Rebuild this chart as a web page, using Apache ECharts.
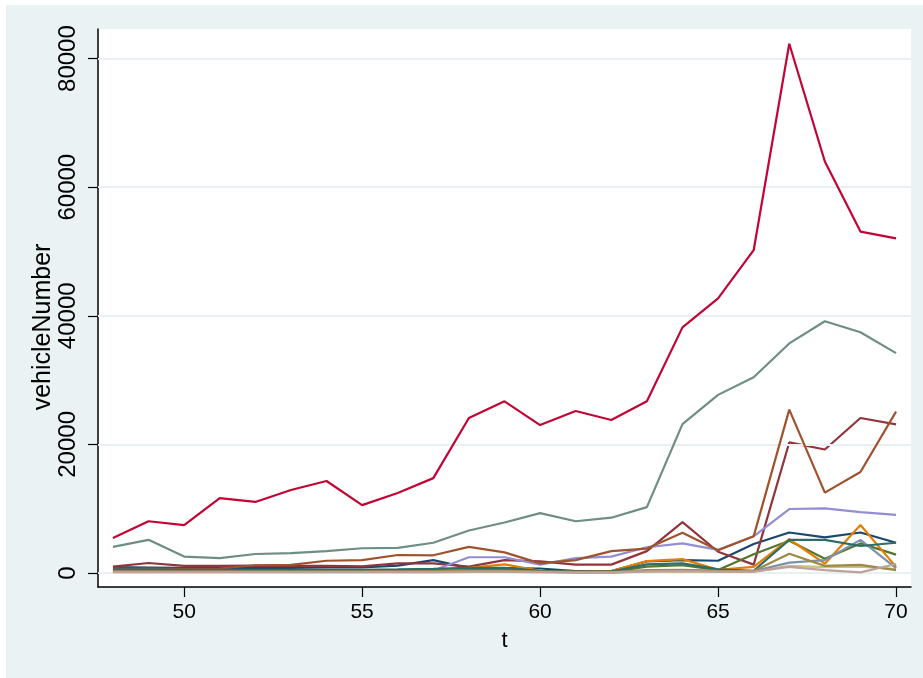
<!DOCTYPE html>
<html>
<head>
<meta charset="utf-8">
<script src="https://cdn.jsdelivr.net/npm/echarts@6/dist/echarts.min.js"></script>
<style>
  html, body { margin: 0; padding: 0; background: #ffffff; }
  #chart { width: 923px; height: 678px; }
</style>
</head>
<body>
<div id="chart"></div>
<script>
// Time index (t) and tick values
const t = [48,49,50,51,52,53,54,55,56,57,58,59,60,61,62,63,64,65,66,67,68,69,70];
const xTicks = [50, 55, 60, 65, 70];
const yTicks = [0, 20000, 40000, 60000, 80000];

// vehicleNumber per panel unit, in plotting order
const navy      = [900,850,800,750,800,800,850,850,1150,2000,750,750,700,300,300,1800,2000,1900,4500,6300,5550,6300,4700];
const maroon    = [1000,1550,1100,1100,1150,1100,1100,1050,1500,1500,1000,2000,1800,1300,1300,3400,7900,3300,1300,20300,19200,24100,23100];
const forest    = [300,300,250,250,300,300,300,300,300,350,500,500,250,150,150,1000,1200,450,2900,5000,2200,4600,2850];
const dkorange  = [400,450,350,350,350,350,350,350,400,450,800,1350,350,200,300,1850,2150,500,950,5250,1450,7450,950];
const teal      = [4050,5150,2550,2300,2950,3100,3400,3850,3900,4700,6600,7850,9300,8050,8600,10250,23150,27700,30450,35700,39150,37450,34200];
const cranberry = [5450,8050,7450,11650,11050,12900,14300,10550,12450,14750,24100,26700,23000,25200,23800,26700,38200,42700,50200,82300,64000,53100,52050];
const lavender  = [300,300,300,300,300,300,300,300,350,400,2450,2450,1300,2300,2550,4000,4600,3600,5700,9950,10050,9450,9050];
const khaki     = [100,100,100,100,100,100,100,100,100,100,150,150,100,50,50,200,250,150,200,1100,900,1000,600];
const sienna    = [700,700,650,700,1200,1250,1900,2000,2800,2750,4050,3200,1500,2000,3400,3800,6250,3550,5700,25400,12500,15700,25100];
const emidblue  = [200,200,200,200,200,200,200,200,200,250,300,300,200,100,100,300,400,300,300,1600,2000,5150,750];
const emerald   = [550,550,500,500,500,500,500,500,550,650,800,800,350,200,200,1350,1500,550,350,5150,5150,4200,4700];
const brown     = [250,250,250,250,250,250,250,250,250,300,350,350,250,150,150,450,500,350,300,3000,1100,1250,450];
const erose     = [150,150,150,150,150,150,150,150,150,150,200,200,150,100,100,250,300,200,200,950,450,100,1400];

const seriesList = [
  { name: 'navy',      color: '#1a476f', values: navy },
  { name: 'maroon',    color: '#90353b', values: maroon },
  { name: 'forest',    color: '#55752f', values: forest },
  { name: 'dkorange',  color: '#e37e00', values: dkorange },
  { name: 'teal',      color: '#6e8e84', values: teal },
  { name: 'cranberry', color: '#c10534', values: cranberry },
  { name: 'lavender',  color: '#938dd2', values: lavender },
  { name: 'khaki',     color: '#cac27e', values: khaki },
  { name: 'sienna',    color: '#a0522d', values: sienna },
  { name: 'emidblue',  color: '#7b92a8', values: emidblue },
  { name: 'emerald',   color: '#2d6d66', values: emerald },
  { name: 'brown',     color: '#9c8847', values: brown },
  { name: 'erose',     color: '#bfa19c', values: erose }
];

const FONT = '"Liberation Sans", Arial, Helvetica, sans-serif';
const GRID_COLOR = '#e8f0f2';

const series = seriesList.map((s, i) => ({
  name: s.name,
  type: 'line',
  data: t.map((x, k) => [x, s.values[k]]),
  showSymbol: false,
  symbol: 'none',
  lineStyle: { color: s.color, width: 2.2 },
  itemStyle: { color: s.color },
  z: 3 + i,
  silent: true,
  animation: false
}));

// horizontal grid lines at the y tick values
series.unshift({
  type: 'line',
  data: [],
  z: 1,
  silent: true,
  animation: false,
  markLine: {
    silent: true,
    symbol: 'none',
    label: { show: false },
    lineStyle: { color: GRID_COLOR, width: 2, type: 'solid' },
    data: yTicks.map(v => ({ yAxis: v }))
  }
});

const chart = echarts.init(document.getElementById('chart'), null, { renderer: 'canvas' });
chart.setOption({
  backgroundColor: '#eaf2f3',
  animation: false,
  graphic: [
    { type: 'rect', left: 0, top: 0, shape: { width: 923, height: 5 }, style: { fill: '#ffffff' }, z: 100 },
    { type: 'rect', left: 0, top: 0, shape: { width: 6, height: 678 }, style: { fill: '#ffffff' }, z: 100 }
  ],
  grid: {
    left: 98, right: 12, top: 29, bottom: 91,
    show: true, backgroundColor: '#ffffff', borderWidth: 0
  },
  xAxis: {
    type: 'value',
    min: 47.58, max: 70.42,
    name: 't',
    nameLocation: 'middle',
    nameGap: 43,
    nameMoveOverlap: false,
    nameTextStyle: { color: '#000', fontSize: 22, fontFamily: FONT },
    axisLine: { show: true, onZero: false, lineStyle: { color: '#000', width: 1.5 } },
    axisTick: { show: true, length: 10, customValues: xTicks, lineStyle: { color: '#000', width: 1.2 } },
    axisLabel: { customValues: xTicks, color: '#000', fontSize: 21, fontFamily: FONT, margin: 15 },
    splitLine: { show: false }
  },
  yAxis: {
    type: 'value',
    min: -2180, max: 84600,
    name: 'vehicleNumber',
    nameLocation: 'middle',
    nameRotate: 90,
    nameGap: 42,
    nameMoveOverlap: false,
    nameTextStyle: { color: '#000', fontSize: 25, fontFamily: FONT, padding: [0, 38, 0, 0] },
    axisLine: { show: true, onZero: false, lineStyle: { color: '#000', width: 1.5 } },
    axisTick: { show: true, length: 10, customValues: yTicks, lineStyle: { color: '#000', width: 1.2 } },
    axisLabel: {
      customValues: yTicks, rotate: 90, color: '#000', fontSize: 24, fontFamily: FONT, margin: 18,
      formatter: v => String(v)
    },
    splitLine: { show: false }
  },
  series: series
});
</script>
</body>
</html>
